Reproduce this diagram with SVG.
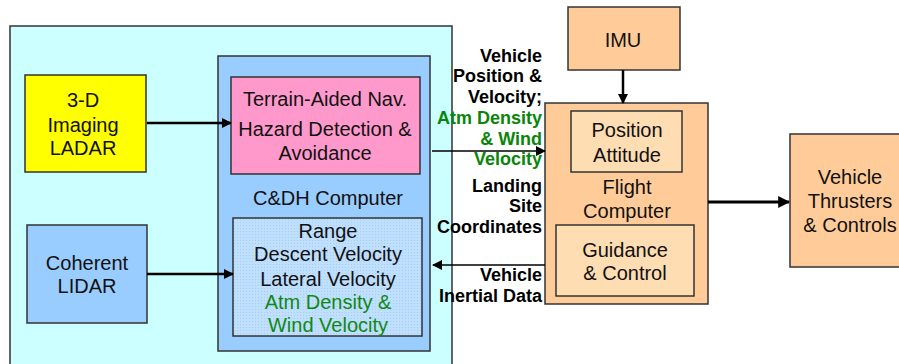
<svg xmlns="http://www.w3.org/2000/svg" width="899" height="364" viewBox="0 0 899 364">
<defs>
<style>
.box{stroke:#333;stroke-width:1.5}
.t{font-family:"Liberation Sans",Arial,sans-serif;font-size:20px;fill:#111;text-anchor:middle}
.g{fill:#118811}
.lb{font-family:"Liberation Sans",Arial,sans-serif;font-size:18px;font-weight:bold;fill:#000;text-anchor:end}
.lg{fill:#0a850a}
.c{stroke:#000;fill:none}
</style>
<marker id="ah" viewBox="0 0 10 10" refX="9" refY="5" markerWidth="10" markerHeight="10" markerUnits="userSpaceOnUse" orient="auto">
<path d="M0,0 L10,5 L0,10 z" fill="#000"/>
</marker>
<marker id="ahb" viewBox="0 0 10 10" refX="9" refY="5" markerWidth="12" markerHeight="12" markerUnits="userSpaceOnUse" orient="auto">
<path d="M0,0 L10,5 L0,10 z" fill="#000"/>
</marker>
<pattern id="dots" width="3" height="3" patternUnits="userSpaceOnUse">
<rect width="3" height="3" fill="#BFDFFF"/>
<rect width="1" height="1" fill="#A9CDF5"/>
</pattern>
</defs>
<rect width="899" height="364" fill="#fff"/>
<g id="sensor-platform">
<rect class="box" x="10" y="26" width="442" height="345" fill="#CCFFFF"/>
</g>
<g id="cdh-computer">
<rect class="box" x="218" y="56" width="212" height="295" fill="#99CCFF"/>
<text class="t" x="328" y="205">C&amp;DH Computer</text>
</g>
<g id="terrain-nav">
<rect class="box" x="231" y="77" width="189" height="97" fill="#FF99CC"/>
<text class="t" x="325" y="106">Terrain-Aided Nav.</text>
<text class="t" x="325" y="136">Hazard Detection &amp;</text>
<text class="t" x="325" y="160">Avoidance</text>
</g>
<g id="range-velocity">
<rect class="box" x="233" y="218" width="189" height="118" fill="url(#dots)"/>
<text class="t" x="328" y="238">Range</text>
<text class="t" x="328" y="261">Descent Velocity</text>
<text class="t" x="328" y="286">Lateral Velocity</text>
<text class="t g" x="328" y="309">Atm Density &amp;</text>
<text class="t g" x="328" y="332">Wind Velocity</text>
</g>
<g id="ladar">
<rect class="box" x="25" y="75" width="121" height="97" fill="#FFFF00"/>
<text class="t" x="83" y="107">3-D</text>
<text class="t" x="83" y="132">Imaging</text>
<text class="t" x="83" y="155">LADAR</text>
</g>
<g id="lidar">
<rect class="box" x="27" y="225" width="120" height="98" fill="#99CCFF"/>
<text class="t" x="87" y="270">Coherent</text>
<text class="t" x="87" y="293">LIDAR</text>
</g>
<g id="imu">
<rect class="box" x="568" y="7" width="112" height="63" fill="#FFCC99"/>
<text class="t" x="623" y="47">IMU</text>
</g>
<g id="flight-computer">
<rect class="box" x="545" y="103" width="163" height="201" fill="#FFCC99"/>
<text class="t" x="627" y="194">Flight</text>
<text class="t" x="627" y="218">Computer</text>
</g>
<g id="position-attitude">
<rect class="box" x="571" y="111" width="111" height="61" fill="#FFDDB3"/>
<text class="t" x="627" y="137">Position</text>
<text class="t" x="627" y="162">Attitude</text>
</g>
<g id="guidance-control">
<rect class="box" x="556" y="225" width="138" height="71" fill="#FFDDB3"/>
<text class="t" x="625" y="257">Guidance</text>
<text class="t" x="625" y="280">&amp; Control</text>
</g>
<g id="thrusters">
<rect class="box" x="790" y="134" width="115" height="133" fill="#FFCC99"/>
<text class="t" x="850" y="184">Vehicle</text>
<text class="t" x="850" y="208">Thrusters</text>
<text class="t" x="850" y="232">&amp; Controls</text>
</g>
<g id="connectors">
<line class="c" x1="147" y1="123" x2="231" y2="123" stroke-width="2.5" marker-end="url(#ah)"/>
<line class="c" x1="147" y1="274" x2="233" y2="274" stroke-width="2.5" marker-end="url(#ah)"/>
<line class="c" x1="623" y1="70" x2="623" y2="103" stroke-width="2.5" marker-end="url(#ah)"/>
<line class="c" x1="708" y1="202" x2="789" y2="202" stroke-width="3" marker-end="url(#ahb)"/>
<line class="c" x1="432" y1="151" x2="545" y2="151" stroke-width="1.5" marker-end="url(#ah)"/>
<line class="c" x1="545" y1="265" x2="433" y2="265" stroke-width="1.5" marker-end="url(#ah)"/>
</g>
<g id="labels">
<text class="lb" x="542" y="62">Vehicle</text>
<text class="lb" x="542" y="82">Position &amp;</text>
<text class="lb" x="542" y="103">Velocity;</text>
<text class="lb lg" x="542" y="124">Atm Density</text>
<text class="lb lg" x="542" y="145">&amp; Wind</text>
<text class="lb lg" x="542" y="165">Velocity</text>
<text class="lb" x="542" y="192">Landing</text>
<text class="lb" x="542" y="212">Site</text>
<text class="lb" x="542" y="233">Coordinates</text>
<text class="lb" x="542" y="281">Vehicle</text>
<text class="lb" x="542" y="302">Inertial Data</text>
</g>
</svg>
